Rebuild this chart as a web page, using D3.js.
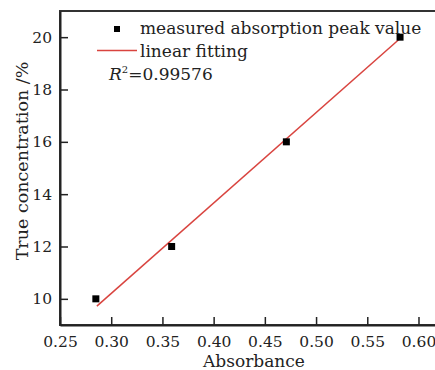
<!DOCTYPE html>
<html><head><meta charset="utf-8">
<script src="https://cdn.jsdelivr.net/npm/d3@7"></script>
<style>body{margin:0;background:#fff}svg{display:block}text{font-family:"DejaVu Serif",serif;fill:#222}</style>
</head><body>
<script>
const absorbance = [0.285, 0.359, 0.471, 0.582];
const concentration = [10, 12, 16, 20];
const fitX = [0.286, 0.582];
const fitY = [9.72, 19.95];
const xTicks = [0.25, 0.30, 0.35, 0.40, 0.45, 0.50, 0.55, 0.60];
const yTicks = [10, 12, 14, 16, 18, 20];
const legendLabels = ["measured absorption peak value", "linear fitting"];
const r2Text = "0.99576";

const W = 435, H = 370;
const m = {left: 60, top: 11, right: 440, bottom: 325};
const svg = d3.select("body").append("svg").attr("width", W).attr("height", H);
const x = d3.scaleLinear().domain([0.25, 0.621]).range([m.left, m.right]);
const y = d3.scaleLinear().domain([9, 21]).range([m.bottom, m.top]);

// frame
svg.append("rect").attr("x", m.left).attr("y", m.top).attr("width", m.right - m.left).attr("height", m.bottom - m.top)
  .attr("fill", "none").attr("stroke", "#333").attr("stroke-width", 2);

const xAxis = svg.append("g").attr("transform", `translate(0,${m.bottom})`)
  .call(d3.axisBottom(x).tickValues(xTicks).tickFormat(d3.format(".2f")).tickSizeInner(-8).tickSizeOuter(0).tickPadding(11));
const yAxis = svg.append("g").attr("transform", `translate(${m.left},0)`)
  .call(d3.axisLeft(y).tickValues(yTicks).tickSizeInner(-8).tickSizeOuter(0).tickPadding(8));
[xAxis, yAxis].forEach(g => {
  g.select(".domain").attr("stroke", "#222").attr("stroke-width", 2);
  g.selectAll(".tick line").attr("stroke", "#222").attr("stroke-width", 1.5);
  g.selectAll(".tick text").attr("font-family", "DejaVu Serif").attr("font-size", 15.5).attr("fill", "#222");
});
xAxis.selectAll(".tick text").attr("dy", "0.71em");

// fit line
svg.append("path").datum(fitX.map((d, i) => [d, fitY[i]]))
  .attr("d", d3.line().x(d => x(d[0])).y(d => y(d[1])))
  .attr("stroke", "#d9443f").attr("stroke-width", 1.5).attr("fill", "none");

// points
svg.selectAll("rect.pt").data(absorbance).enter().append("rect").attr("class", "pt")
  .attr("x", d => x(d) - 3.5).attr("y", (d, i) => y(concentration[i]) - 3.5)
  .attr("width", 7).attr("height", 7).attr("fill", "#000");

// legend
svg.append("rect").attr("x", 114).attr("y", 26).attr("width", 6).attr("height", 6).attr("fill", "#000");
svg.append("text").attr("x", 140).attr("y", 34).attr("font-size", 17).text(legendLabels[0]);
svg.append("line").attr("x1", 97).attr("x2", 137).attr("y1", 50.5).attr("y2", 50.5)
  .attr("stroke", "#d9443f").attr("stroke-width", 1.5);
svg.append("text").attr("x", 140).attr("y", 57).attr("font-size", 17).text(legendLabels[1]);
const rt = svg.append("text").attr("x", 109).attr("y", 80).attr("font-size", 17);
rt.append("tspan").attr("font-style", "italic").text("R");
rt.append("tspan").attr("font-size", 10).attr("dy", -7).text("2");
rt.append("tspan").attr("dy", 7).text("=" + r2Text);

// axis titles
svg.append("text").attr("x", 254).attr("y", 367).attr("text-anchor", "middle").attr("font-size", 17).text("Absorbance");
svg.append("text").attr("transform", "translate(28,161) rotate(-90)").attr("text-anchor", "middle").attr("font-size", 17.5).text("True concentration /%");
</script>
</body></html>
